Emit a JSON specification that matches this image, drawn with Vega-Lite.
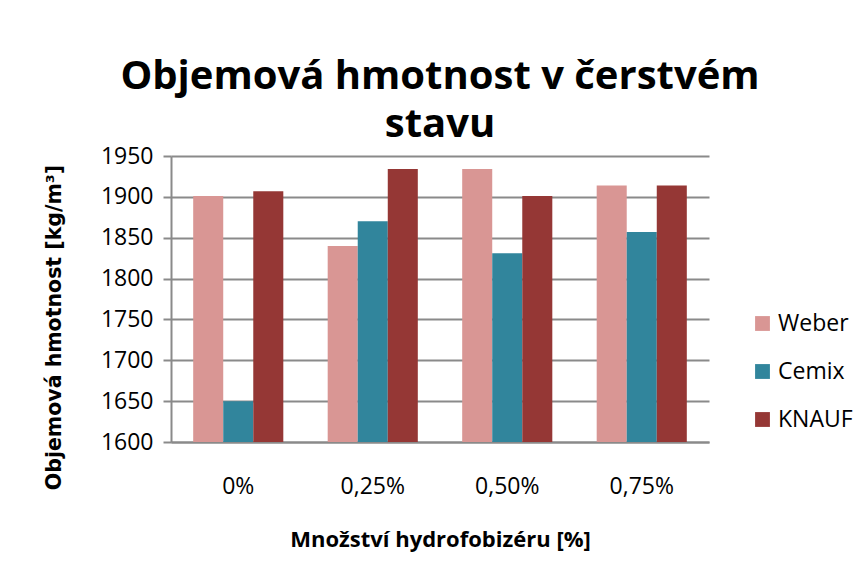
{
  "$schema": "https://vega.github.io/schema/vega-lite/v6.json",
  "width": 538,
  "height": 286,
  "autosize": {"type": "none"},
  "padding": {"left": 171, "top": 156, "right": 156, "bottom": 132},
  "background": "white",
  "title": {
    "text": ["Objemová hmotnost v čerstvém", "stavu"],
    "font": "Open Sans",
    "fontSize": 40,
    "fontWeight": "bold",
    "color": "#000000",
    "lineHeight": 48,
    "anchor": "middle",
    "offset": 0
  },
  "data": {
    "values": [
      {"mnozstvi": "0%", "firma": "Weber", "hodnota": 1901},
      {"mnozstvi": "0%", "firma": "Cemix", "hodnota": 1650},
      {"mnozstvi": "0%", "firma": "KNAUF", "hodnota": 1907},
      {"mnozstvi": "0,25%", "firma": "Weber", "hodnota": 1840},
      {"mnozstvi": "0,25%", "firma": "Cemix", "hodnota": 1870},
      {"mnozstvi": "0,25%", "firma": "KNAUF", "hodnota": 1934},
      {"mnozstvi": "0,50%", "firma": "Weber", "hodnota": 1934},
      {"mnozstvi": "0,50%", "firma": "Cemix", "hodnota": 1831},
      {"mnozstvi": "0,50%", "firma": "KNAUF", "hodnota": 1901},
      {"mnozstvi": "0,75%", "firma": "Weber", "hodnota": 1914},
      {"mnozstvi": "0,75%", "firma": "Cemix", "hodnota": 1857},
      {"mnozstvi": "0,75%", "firma": "KNAUF", "hodnota": 1914}
    ]
  },
  "mark": {"type": "bar", "clip": true},
  "encoding": {
    "x": {
      "field": "mnozstvi",
      "type": "nominal",
      "sort": ["0%", "0,25%", "0,50%", "0,75%"],
      "scale": {"paddingInner": 0.33, "paddingOuter": 0.165},
      "axis": {
        "title": "Množství hydrofobizéru [%]",
        "titleFont": "Open Sans",
        "titleFontSize": 22,
        "titleFontWeight": "bold",
        "titleColor": "#000000",
        "titlePadding": 31,
        "labelAngle": 0,
        "labelFont": "Open Sans",
        "labelFontSize": 23,
        "labelColor": "#000000",
        "labelPadding": 33,
        "ticks": false,
        "domainColor": "#8a8a8a",
        "domainWidth": 2,
        "grid": false
      }
    },
    "xOffset": {
      "field": "firma",
      "type": "nominal",
      "sort": ["Weber", "Cemix", "KNAUF"],
      "scale": {"paddingInner": 0, "paddingOuter": 0}
    },
    "y": {
      "field": "hodnota",
      "type": "quantitative",
      "scale": {"domain": [1600, 1950], "zero": false, "nice": false},
      "axis": {
        "title": "Objemová hmotnost [kg/m³]",
        "titleFont": "DejaVu Sans",
        "titleFontSize": 20.5,
        "titleFontWeight": "bold",
        "titleColor": "#000000",
        "titlePadding": 36,
        "titleY": 171,
        "values": [1600, 1650, 1700, 1750, 1800, 1850, 1900, 1950],
        "format": "d",
        "labelFont": "Open Sans",
        "labelFontSize": 23,
        "labelColor": "#000000",
        "labelPadding": 10,
        "tickSize": 8,
        "tickColor": "#8a8a8a",
        "tickWidth": 2,
        "domainColor": "#8a8a8a",
        "domainWidth": 2,
        "gridColor": "#8a8a8a",
        "gridWidth": 2
      }
    },
    "color": {
      "field": "firma",
      "type": "nominal",
      "sort": ["Weber", "Cemix", "KNAUF"],
      "scale": {
        "domain": ["Weber", "Cemix", "KNAUF"],
        "range": ["#D99694", "#31859C", "#953735"]
      },
      "legend": {
        "title": null,
        "orient": "none",
        "legendX": 580,
        "legendY": 156,
        "symbolType": "square",
        "symbolSize": 220,
        "symbolStrokeWidth": 0,
        "labelFont": "Open Sans",
        "labelFontSize": 23,
        "labelColor": "#000000",
        "labelOffset": 4,
        "rowPadding": 24
      }
    }
  },
  "config": {
    "view": {"stroke": null}
  }
}
